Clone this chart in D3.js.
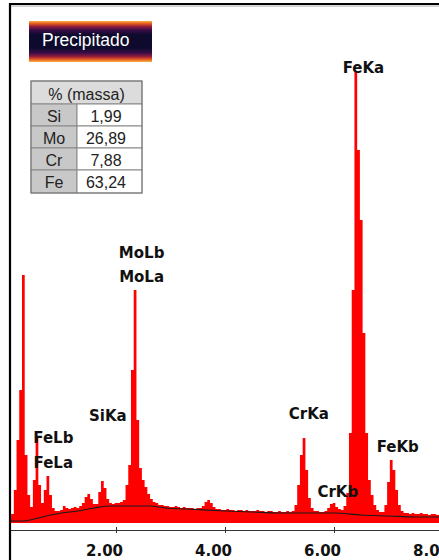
<!DOCTYPE html>
<html>
<head>
<meta charset="utf-8">
<script src="https://cdn.jsdelivr.net/npm/d3@7"></script>
<style>
  html, body { margin: 0; padding: 0; background: #fff; }
  svg { display: block; }
</style>
</head>
<body>
<svg id="chart" width="439" height="560"></svg>
<script>
// EDS spectrum of the precipitate: counts per 0.05 keV channel, starting at 0.05 keV
const channelStart = 0.05;
const channelWidth = 0.05;
const counts = [
  40, 90, 330, 830, 1330, 2480, 680, 280, 160, 430, 850, 380, 200, 330, 470, 280, 150, 120, 120,      // 0.05 - 0.95
  130, 170, 150, 140, 150, 160, 150, 170, 200, 260, 290, 240, 190, 190, 310, 420, 350, 240, 200, 190, // 1.00 - 1.95
  200, 200, 210, 230, 380, 580, 1530, 2330, 1030, 550, 430, 360, 290, 240, 210, 200, 180, 180, 170, 170, // 2.00 - 2.95
  160, 160, 170, 160, 150, 160, 150, 150, 150, 140, 150, 150, 170, 210, 230, 200, 160, 140, 140, 130, // 3.00 - 3.95
  130, 140, 130, 130, 120, 130, 130, 120, 130, 120, 120, 120, 130, 120, 120, 110, 120, 120, 110, 110, // 4.00 - 4.95
  120, 110, 110, 120, 110, 120, 180, 380, 680, 850, 530, 250, 150, 120, 120, 110, 110, 120, 150, 190, // 5.00 - 5.95
  200, 160, 140, 130, 170, 300, 900, 2330, 4510, 3730, 3030, 1900, 900, 430, 280, 180, 130, 110, 110, 180, // 6.00 - 6.95
  410, 630, 530, 330, 180, 120, 100, 100, 90, 100, 90, 90, 100, 90, 90, 80, 90, 90, 80, 90,           // 7.00 - 7.95
  80                                                                                                    // 8.00
];

// Fitted background (keV, counts)
const bgEnergy = [0.05, 0.3, 0.5, 0.8, 1.0, 1.3, 1.6, 1.9, 2.2, 2.6, 2.9, 3.3, 4.0, 4.5, 5.0, 5.5, 6.0, 6.5, 7.0, 7.5, 8.0];
const bgCounts = [20, 20, 40, 80, 100, 120, 150, 170, 170, 170, 150, 140, 120, 110, 100, 100, 100, 80, 70, 60, 60];

// Peak identifications (label, energy where the label sits, count level of its baseline)
const peakLabels = ["FeKa", "MoLb", "MoLa", "SiKa", "FeLb", "FeLa", "CrKa", "CrKb", "FeKb"];
const peakLabelEnergy = [6.54, 2.47, 2.47, 1.85, 0.85, 0.85, 5.54, 6.07, 7.17];
const peakLabelLevel = [4500, 2650, 2410, 1020, 800, 550, 1040, 260, 710];

// Quantification table
const tableTitle = "% (massa)";
const elements = ["Si", "Mo", "Cr", "Fe"];
const massPercent = [1.99, 26.89, 7.88, 63.24];

// Axis ticks (keV)
const tickValues = [2, 4, 6, 8];

const svg = d3.select("#chart");

const x = d3.scaleLinear().domain([0, 8]).range([7, 443]);
const y = d3.scaleLinear().domain([0, 5000]).range([523, 23]);

const spectrum = counts.map((c, i) => ({ e: channelStart + i * channelWidth, c }));

// Plot clip region (inside the frame)
svg.append("defs").append("clipPath").attr("id", "plotClip")
  .append("rect").attr("x", 10).attr("y", 4).attr("width", 429).attr("height", 556);

const plot = svg.append("g").attr("clip-path", "url(#plotClip)");

// Spectrum histogram
plot.append("path")
  .datum(spectrum)
  .attr("fill", "#ff0000")
  .attr("d", d3.area()
    .curve(d3.curveStep)
    .x(d => x(d.e))
    .y0(y(0))
    .y1(d => y(d.c)));

// Background curve
plot.append("path")
  .datum(bgEnergy.map((e, i) => ({ e, c: bgCounts[i] })))
  .attr("fill", "none")
  .attr("stroke", "#1a1a1a")
  .attr("stroke-width", 1.1)
  .attr("d", d3.line().curve(d3.curveMonotoneX).x(d => x(d.e)).y(d => y(d.c)));

// Energy axis
const axis = plot.append("g")
  .attr("transform", "translate(0,530)")
  .call(d3.axisBottom(x).tickValues(tickValues).tickFormat(d3.format(".2f")).tickSizeOuter(0).tickSize(3).tickPadding(12));
axis.select(".domain").attr("stroke", "#333").attr("stroke-width", 1);
axis.selectAll(".tick line").attr("y1", -3).attr("y2", 3).attr("stroke", "#333");
axis.selectAll(".tick text")
  .attr("dx", -12)
  .attr("fill", "#111")
  .style("font-family", "'DejaVu Sans', sans-serif")
  .style("font-weight", "bold")
  .style("font-size", "15px");

// Peak labels
plot.append("g").selectAll("text")
  .data(peakLabels)
  .join("text")
  .attr("x", (d, i) => x(peakLabelEnergy[i]))
  .attr("y", (d, i) => y(peakLabelLevel[i]))
  .attr("text-anchor", "middle")
  .attr("fill", "#111")
  .style("font-family", "'DejaVu Sans', sans-serif")
  .style("font-weight", "bold")
  .style("font-size", "15px")
  .text(d => d);

// Frame
svg.append("path")
  .attr("d", "M10,560V4H439")
  .attr("fill", "none")
  .attr("stroke", "#000")
  .attr("stroke-width", 2.2);
svg.append("line")
  .attr("x1", 11).attr("x2", 439).attr("y1", 6).attr("y2", 6)
  .attr("stroke", "#aaa").attr("stroke-width", 1);

// Title badge
const grad = svg.select("defs").append("linearGradient")
  .attr("id", "badgeGrad").attr("x1", 0).attr("x2", 0).attr("y1", 0).attr("y2", 1);
[
  [0, "#f8b24a"], [0.06, "#e8601e"], [0.13, "#9a1e3c"], [0.22, "#3a0c46"], [0.34, "#0d0a2e"],
  [0.66, "#0d0a2e"], [0.78, "#3a0c46"], [0.87, "#9a1e3c"], [0.94, "#e8601e"], [1, "#f8b24a"]
].forEach(([o, c]) => grad.append("stop").attr("offset", o).attr("stop-color", c));

svg.append("rect")
  .attr("x", 29).attr("y", 21).attr("width", 123).attr("height", 41)
  .attr("fill", "url(#badgeGrad)");
svg.append("text")
  .attr("x", 42).attr("y", 46)
  .attr("fill", "#fff")
  .style("font-family", "'Liberation Sans', Arial, sans-serif")
  .style("font-size", "17.5px")
  .text("Precipitado");

// Composition table
const tx0 = 31, tx1 = 77, tx2 = 142;
const rowTops = [81, 104, 126, 148, 170, 193];
const tbl = svg.append("g");
const tfont = "'Liberation Sans', Arial, sans-serif";

tbl.append("rect").attr("x", tx0).attr("y", rowTops[0]).attr("width", tx2 - tx0).attr("height", rowTops[1] - rowTops[0])
  .attr("fill", "#dcdcdc").attr("stroke", "#888");
tbl.append("text").attr("x", (tx0 + tx2) / 2).attr("y", rowTops[0] + 19)
  .attr("text-anchor", "middle").attr("fill", "#222")
  .style("font-family", tfont).style("font-size", "16px").text(tableTitle);

const fmt = v => d3.format(".2f")(v).replace(".", ",");
elements.forEach((el, i) => {
  const top = rowTops[i + 1], h = rowTops[i + 2] - top;
  tbl.append("rect").attr("x", tx0).attr("y", top).attr("width", tx1 - tx0).attr("height", h)
    .attr("fill", "#c8c8c8").attr("stroke", "#888");
  tbl.append("rect").attr("x", tx1).attr("y", top).attr("width", tx2 - tx1).attr("height", h)
    .attr("fill", "#fff").attr("stroke", "#888");
  tbl.append("text").attr("x", (tx0 + tx1) / 2).attr("y", top + 17.5)
    .attr("text-anchor", "middle").attr("fill", "#222")
    .style("font-family", tfont).style("font-size", "16px").text(el);
  tbl.append("text").attr("x", 106).attr("y", top + 17.5)
    .attr("text-anchor", "middle").attr("fill", "#222")
    .style("font-family", tfont).style("font-size", "16px").text(fmt(massPercent[i]));
});
tbl.append("rect").attr("x", tx0).attr("y", rowTops[0]).attr("width", tx2 - tx0).attr("height", rowTops[5] - rowTops[0])
  .attr("fill", "none").attr("stroke", "#777");
</script>
</body>
</html>
